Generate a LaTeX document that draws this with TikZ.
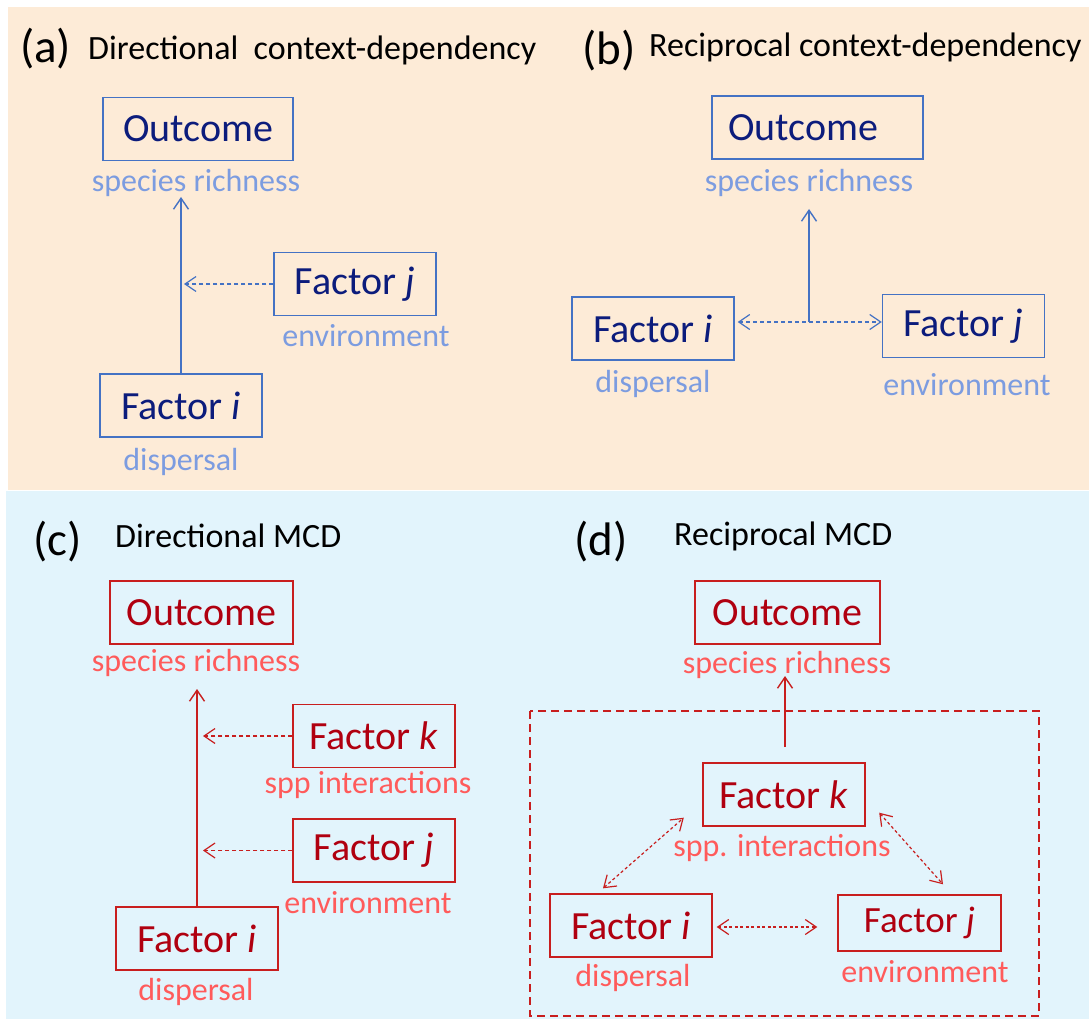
\documentclass[tikz,border=0pt]{standalone}
\usepackage{fontspec}
\setmainfont{Carlito}
\usetikzlibrary{arrows.meta}
\definecolor{peach}{HTML}{FDEBD7}
\definecolor{sky}{HTML}{E2F4FC}
\definecolor{boxblue}{HTML}{4472C4}
\definecolor{navytext}{HTML}{0C1C7C}
\definecolor{labblue}{HTML}{7C9CE0}
\definecolor{boxred}{HTML}{C81E1E}
\definecolor{redtext}{HTML}{B00010}
\definecolor{labred}{HTML}{FF5B5B}
\tikzset{
  box/.style={draw, line width=1.4pt, minimum height=63pt, inner sep=0pt, font=\fontsize{40}{48}\selectfont},
  bluebox/.style={box, draw=boxblue, text=navytext},
  redbox/.style={box, draw=boxred, text=redtext},
  lab/.style={inner sep=0pt, font=\fontsize{32}{38}\selectfont},
  bluelab/.style={lab, text=labblue},
  redlab/.style={lab, text=labred},
  panel/.style={anchor=base west, inner sep=0pt, font=\fontsize{47}{56}\selectfont},
  ptitle/.style={anchor=base west, inner sep=0pt, font=\fontsize{34}{40}\selectfont},
  barb/.style={-{Straight Barb[length=11pt,width=15pt]}, line width=1.4pt},
  dbarb/.style={{Straight Barb[length=11pt,width=15pt]}-{Straight Barb[length=11pt,width=15pt]}, line width=1.2pt},
  dashline/.style={dash pattern=on 4pt off 3pt}
}
\begin{document}
\begin{tikzpicture}[x=1pt, y=-1pt]
\useasboundingbox (0,0) rectangle (1089,1019);
\fill [peach] (8,7) rectangle (1089,490);
\fill [sky] (6,491) rectangle (1089,1019);

% (a) directional context-dependency
\node [panel] (ta) at (20,63) {(a)};
\node [ptitle] (tta) at (88,60) {Directional\ \ context-dependency};
\node [bluebox, minimum width=190pt] (outA) at (198,129) {Outcome};
\node [bluelab] (labOutA) at (196,183) {species richness};
\node [bluebox, minimum width=162pt] (fjA) at (355,284) {Factor \textit{j}};
\node [bluelab] (labFjA) at (366,336) {environment};
\node [bluebox, minimum width=162pt] (fiA) at (181,405.5) {Factor \textit{i}};
\node [bluelab] (labFiA) at (181,462) {dispersal};
\coordinate (tipA) at (181,197);
\coordinate (midA) at (184,284);
\draw [barb, boxblue] (fiA.north) -- (tipA);
\draw [barb, boxblue, line width=1.2pt, dashline] (fjA.west) -- (midA);

% (b) reciprocal context-dependency
\node [panel] (tb) at (582,65) {(b)};
\node [ptitle] (ttb) at (649,57) {Reciprocal context-dependency};
\node [bluebox, minimum width=211pt] (outB) at (817.5,127.5) {Outcome\hspace*{29pt}};
\node [bluelab] (labOutB) at (809,183) {species richness};
\node [bluebox, minimum width=162pt] (fiB) at (653,328.5) {Factor \textit{i}};
\node [bluelab] (labFiB) at (653,384) {dispersal};
\node [bluebox, minimum width=162pt] (fjB) at (963.5,326) {Factor \textit{j}};
\node [bluelab] (labFjB) at (967,385) {environment};
\coordinate (midB) at (809,322);
\coordinate (tipB) at (809,209);
\draw [barb, boxblue] (midB) -- (tipB);
\draw [dbarb, boxblue, dashline, shorten <=3pt] (fiB.east |- midB) -- (fjB.west |- midB);

% (c) directional MCD
\node [panel] (tc) at (33,555) {(c)};
\node [ptitle] (ttc) at (115,547) {Directional MCD};
\node [redbox, minimum width=183pt] (outC) at (201.5,612.5) {Outcome};
\node [redlab] (labOutC) at (196,663) {species richness};
\node [redbox, minimum width=162pt] (fkC) at (374,736) {Factor \textit{k}};
\node [redlab] (labFkC) at (368,785) {spp interactions};
\node [redbox, minimum width=162pt] (fjC) at (374,850.5) {Factor \textit{j}};
\node [redlab] (labFjC) at (368,903) {environment};
\node [redbox, minimum width=162pt] (fiC) at (197,938.5) {Factor \textit{i}};
\node [redlab] (labFiC) at (196,992) {dispersal};
\coordinate (tipC) at (197,689);
\draw [barb, boxred] (fiC.north) -- (tipC);
\draw [barb, boxred, line width=1.2pt, dashline] (fkC.west) -- (fkC.west -| 203,0);
\draw [barb, boxred, line width=1.2pt, dashline] (fjC.west) -- (fjC.west -| 203,0);

% (d) reciprocal MCD
\node [panel] (td) at (574,555) {(d)};
\node [ptitle] (ttd) at (674,545) {Reciprocal MCD};
\node [redbox, minimum width=185pt] (outD) at (787.5,612.5) {Outcome};
\node [redlab] (labOutD) at (787,665) {species richness};
\draw [boxred, line width=1.4pt, dash pattern=on 8pt off 5pt] (530,711) rectangle (1039,1016);
\node [redbox, minimum width=162pt] (fkD) at (784,794.5) {Factor \textit{k}};
\node [redlab] (labFkD) at (782,848) {spp. interactions};
\node [redbox, minimum width=162pt] (fiD) at (631,925.5) {Factor \textit{i}};
\node [redlab] (labFiD) at (633,978) {dispersal};
\node [redbox, minimum width=163pt, minimum height=56pt, font=\fontsize{37}{44}\selectfont] (fjD) at (919.5,923) {Factor \textit{j}};
\node [redlab] (labFjD) at (925,972) {environment};
\coordinate (baseD) at (785,747);
\coordinate (tipD) at (785,676);
\draw [barb, boxred] (baseD) -- (tipD);
\draw [dbarb, boxred, dash pattern=on 3pt off 2.5pt, shorten <=4pt, shorten >=20pt] ([yshift=-1.5pt]fiD.east) -- ([yshift=-1.5pt]fiD.east -| fjD.west);
\draw [dbarb, boxred, dash pattern=on 3pt off 2.5pt] ([xshift=-28pt,yshift=5pt]fiD.north) -- ([xshift=-18.5pt,yshift=9pt]fkD.south west);
\draw [dbarb, boxred, dash pattern=on 3pt off 2.5pt] ([xshift=13.5pt,yshift=14pt]fkD.south east) -- ([xshift=23.5pt,yshift=10pt]fjD.north);
\end{tikzpicture}
\end{document}
